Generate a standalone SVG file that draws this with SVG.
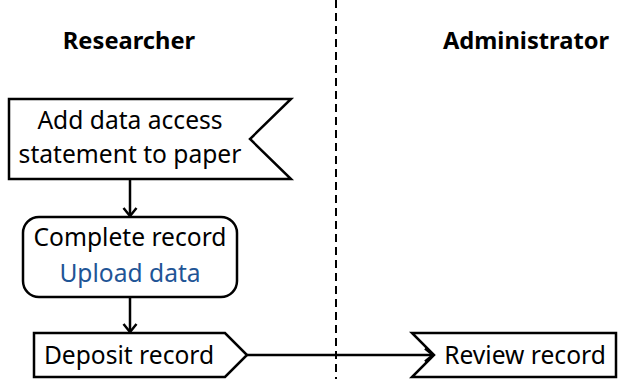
<svg xmlns="http://www.w3.org/2000/svg" width="618" height="379" viewBox="0 0 618 379">
<style>
.shape{fill:#fff;stroke:#000;stroke-width:2.5;stroke-linejoin:miter}
.t{font-family:"Noto Sans","Open Sans",sans-serif;font-size:24.6px;fill:#000;text-anchor:middle}
.h{font-family:"Noto Sans","Open Sans",sans-serif;font-size:23.7px;font-weight:bold;fill:#000;text-anchor:middle}
.blue{fill:#1f5596}
.conn{fill:none;stroke:#000;stroke-width:2.5}
</style>
<defs>
<marker id="arr" markerUnits="userSpaceOnUse" markerWidth="14" markerHeight="16" refX="10" refY="8" orient="auto">
<path d="M2,1.5 L10,8 L2,14.5" fill="none" stroke="#000" stroke-width="2.5"/>
</marker>
</defs>
<line x1="336" y1="0" x2="336" y2="379" stroke="#000" stroke-width="2" stroke-dasharray="8,5"/>
<text class="h" x="129" y="49">Researcher</text>
<text class="h" x="526" y="49">Administrator</text>
<g id="connectors">
<line class="conn" x1="130" y1="179" x2="130" y2="216" marker-end="url(#arr)"/>
<line class="conn" x1="130" y1="297" x2="130" y2="332" marker-end="url(#arr)"/>
<line class="conn" x1="247" y1="355" x2="433" y2="355" marker-end="url(#arr)"/>
</g>
<g id="add-statement">
<path class="shape" d="M9,99 L291,99 L250,139 L291,179 L9,179 Z"/>
<text class="t" x="130" y="129">Add data access</text>
<text class="t" x="130" y="163">statement to paper</text>
</g>
<g id="complete-record">
<rect class="shape" x="23" y="217" width="214" height="80" rx="16"/>
<text class="t" x="130" y="246">Complete record</text>
<text class="t blue" x="130" y="282">Upload data</text>
</g>
<g id="deposit-record">
<path class="shape" d="M34,333 L225,333 L247,355 L225,377 L34,377 Z"/>
<text class="t" x="129" y="364">Deposit record</text>
</g>
<g id="review-record">
<path class="shape" d="M412,333 L616,333 L616,377 L412,377 L434,355 Z"/>
<text class="t" x="525" y="364">Review record</text>
</g>
</svg>
